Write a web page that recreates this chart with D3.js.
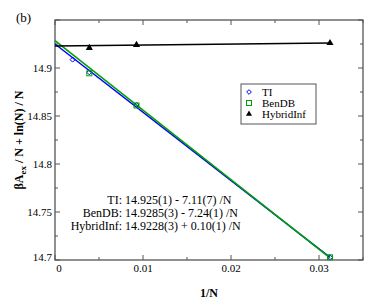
<!DOCTYPE html>
<html>
<head>
<meta charset="utf-8">
<script src="https://cdn.jsdelivr.net/npm/d3@7"></script>
<style>
body { margin: 0; background: #fff; }
svg { font-family: "Liberation Serif", "DejaVu Serif", serif; }
</style>
</head>
<body>
<svg id="chart" width="391" height="308"></svg>
<script>
// data
const tiX = [0.002, 0.0039, 0.00926, 0.03125];
const tiY = [14.9087, 14.8955, 14.8615, 14.7028];
const benX = [0.0039, 0.00926, 0.03125];
const benY = [14.8945, 14.861, 14.7028];
const hybX = [0.0039, 0.00926, 0.03125];
const hybY = [14.921, 14.924, 14.926];

// fits: intercept, slope
const fitNames = ["TI", "BenDB", "HybridInf"];
const fitA = [14.925, 14.9285, 14.9228];
const fitB = [-7.11, -7.24, 0.10];
const fitText = ["14.925(1) - 7.11(7) /N", "14.9285(3) - 7.24(1) /N", "14.9228(3) + 0.10(1)  /N"];
const fitColors = ["#0000ff", "#00a000", "#000000"];

const xTicks = [0, 0.01, 0.02, 0.03];
const yTicks = [14.7, 14.75, 14.8, 14.85, 14.9];

var svg = d3.select("#chart");
var pL = 55, pR = 363, pT = 20, pB = 260;

var x = d3.scaleLinear().domain([0, 0.035]).range([pL, pR]);
var y = d3.scaleLinear().domain([14.7, 14.95]).range([pB, pT]);

var axisColor = "#555";

// frame
svg.append("rect")
    .attr("x", pL).attr("y", pT)
    .attr("width", pR - pL).attr("height", pB - pT)
    .attr("fill", "none").attr("stroke", axisColor).attr("stroke-width", 1.3);

// inward ticks on all four sides
var xMinor = d3.range(0, 0.0351, 0.005);
var yMinor = d3.range(14.7, 14.951, 0.025);
xMinor.forEach(function (v, i) {
    var len = (i % 2 === 0) ? 5 : 3;
    svg.append("line").attr("x1", x(v)).attr("x2", x(v)).attr("y1", pB).attr("y2", pB - len).attr("stroke", axisColor);
    svg.append("line").attr("x1", x(v)).attr("x2", x(v)).attr("y1", pT).attr("y2", pT + len).attr("stroke", axisColor);
});
yMinor.forEach(function (v, i) {
    var len = (i % 2 === 0) ? 5 : 3;
    svg.append("line").attr("y1", y(v)).attr("y2", y(v)).attr("x1", pL).attr("x2", pL + len).attr("stroke", axisColor);
    svg.append("line").attr("y1", y(v)).attr("y2", y(v)).attr("x1", pR).attr("x2", pR - len).attr("stroke", axisColor);
});

// tick labels
svg.selectAll(".xl").data(xTicks).enter().append("text")
    .attr("x", function (d) { return d === 0 ? x(d) + 4 : x(d); })
    .attr("y", 272)
    .attr("text-anchor", "middle")
    .attr("font-size", "11px")
    .text(function (d) { return d; });

svg.selectAll(".yl").data(yTicks).enter().append("text")
    .attr("x", 52)
    .attr("y", function (d) { return d === 14.7 ? y(d) + 1 : y(d) + 4; })
    .attr("text-anchor", "end")
    .attr("font-size", "11px")
    .text(function (d) { return d; });

// axis titles
svg.append("text")
    .attr("x", 209).attr("y", 297)
    .attr("text-anchor", "middle")
    .attr("font-size", "12px").attr("font-weight", "bold")
    .text("1/N");

var yt = svg.append("text")
    .attr("transform", "translate(23,140) rotate(-90)")
    .attr("text-anchor", "middle")
    .attr("font-size", "12px").attr("font-weight", "bold");
yt.append("tspan").text("βA");
yt.append("tspan").attr("font-size", "9px").attr("dy", 3).text("ex");
yt.append("tspan").attr("dy", -3).text(" / N + ln(N) / N");

svg.append("text")
    .attr("x", 16).attr("y", 22)
    .attr("font-size", "13px")
    .text("(b)");

// fit lines
fitA.forEach(function (a, i) {
    svg.append("line")
        .attr("x1", x(0)).attr("y1", y(a))
        .attr("x2", x(0.03125)).attr("y2", y(a + fitB[i] * 0.03125))
        .attr("stroke", fitColors[i]).attr("stroke-width", 1.5);
});

// markers
svg.selectAll(".ti").data(tiX).enter().append("path")
    .attr("d", d3.symbol(d3.symbolDiamond2, 16))
    .attr("transform", function (d, i) { return "translate(" + x(d) + "," + y(tiY[i]) + ")"; })
    .attr("fill", "none").attr("stroke", "#0000ff").attr("stroke-width", 1);

svg.selectAll(".ben").data(benX).enter().append("rect")
    .attr("x", function (d) { return x(d) - 2.5; })
    .attr("y", function (d, i) { return y(benY[i]) - 2.5; })
    .attr("width", 5).attr("height", 5)
    .attr("fill", "none").attr("stroke", "#00a000").attr("stroke-width", 1);

svg.selectAll(".hyb").data(hybX).enter().append("path")
    .attr("d", d3.symbol(d3.symbolTriangle, 22))
    .attr("transform", function (d, i) { return "translate(" + x(d) + "," + y(hybY[i]) + ")"; })
    .attr("fill", "#000");

// legend
svg.append("rect")
    .attr("x", 241).attr("y", 84).attr("width", 75).attr("height", 40)
    .attr("fill", "#fff").attr("stroke", axisColor).attr("stroke-width", 1);
var legY = [92, 103, 114];
svg.append("path").attr("d", d3.symbol(d3.symbolDiamond2, 14))
    .attr("transform", "translate(249," + legY[0] + ")")
    .attr("fill", "none").attr("stroke", "#0000ff");
svg.append("rect").attr("x", 246.5).attr("y", legY[1] - 2.5).attr("width", 5).attr("height", 5)
    .attr("fill", "none").attr("stroke", "#00a000");
svg.append("path").attr("d", d3.symbol(d3.symbolTriangle, 16))
    .attr("transform", "translate(249," + legY[2] + ")")
    .attr("fill", "#000");
fitNames.forEach(function (n, i) {
    svg.append("text")
        .attr("x", 262).attr("y", legY[i] + 4)
        .attr("font-size", "11px")
        .text(n);
});

// fit annotation
var noteY = [204, 217, 230];
fitNames.forEach(function (n, i) {
    svg.append("text")
        .attr("x", 122).attr("y", noteY[i])
        .attr("text-anchor", "end")
        .attr("font-size", "12px")
        .text(n + ":");
    svg.append("text")
        .attr("x", 125).attr("y", noteY[i])
        .attr("font-size", "12px")
        .text(fitText[i]);
});
</script>
</body>
</html>
